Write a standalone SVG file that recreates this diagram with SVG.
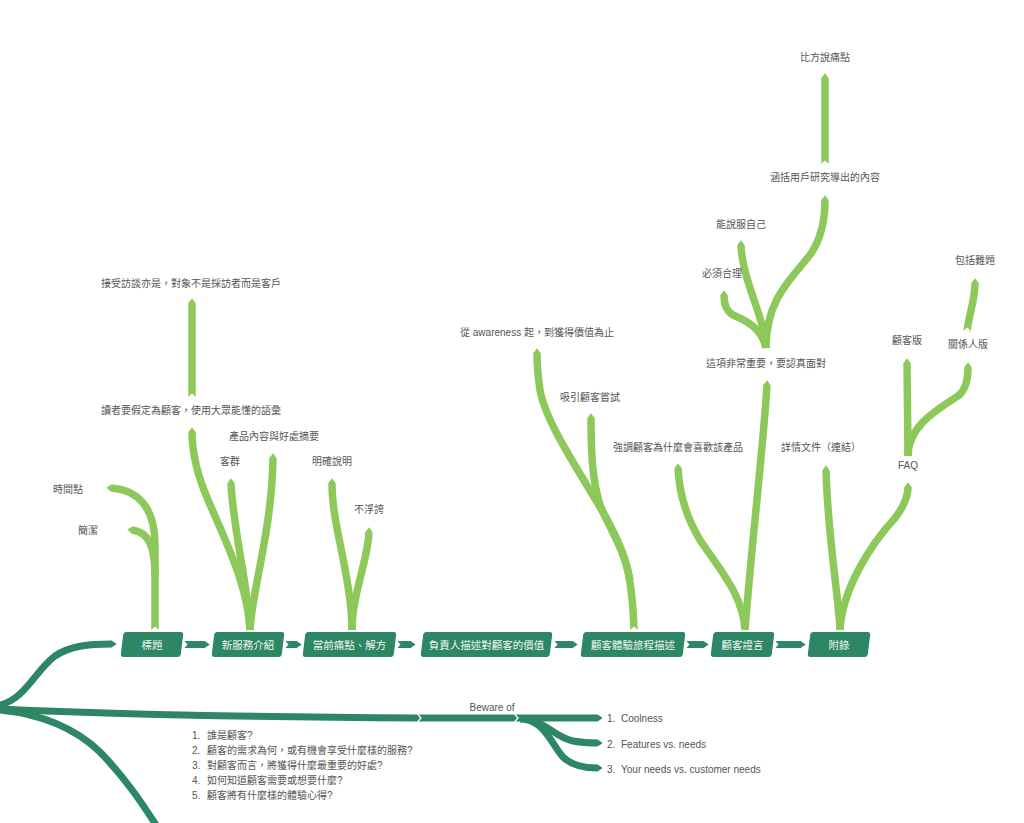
<svg xmlns="http://www.w3.org/2000/svg" width="1024" height="823" viewBox="0 0 1024 823">
<defs>
<style>
.g{fill:none;stroke:#8cc95a;stroke-width:7.5;stroke-linecap:butt;marker-end:url(#tipG)}
.gt{marker-start:url(#notch)}
.d{fill:none;stroke:#2e8764;stroke-width:7;stroke-linecap:butt;marker-end:url(#tipD)}
.dt{marker-start:url(#notch)}
.node{fill:#2e8764}
.nt{font-family:"Liberation Sans","Noto Sans CJK TC",sans-serif;font-size:10.5px;fill:#eef7f1;text-anchor:middle}
.lb{font-family:"Liberation Sans","Noto Sans CJK TC",sans-serif;font-size:10px;fill:#555;text-anchor:middle}
.ls{font-family:"Liberation Sans","Noto Sans CJK TC",sans-serif;font-size:10px;fill:#555}
.chev{fill:none;stroke:#fff;stroke-width:1.3}
</style>
<marker id="tipG" viewBox="0 0 5 8" refX="0.3" refY="4" markerWidth="5" markerHeight="8" markerUnits="userSpaceOnUse" orient="auto"><path d="M0,0.25 L5,4 L0,7.75 Z" fill="#8cc95a"/></marker>
<marker id="tipD" viewBox="0 0 5 8" refX="0.3" refY="4" markerWidth="5" markerHeight="8" markerUnits="userSpaceOnUse" orient="auto"><path d="M0,0.5 L5,4 L0,7.5 Z" fill="#2e8764"/></marker>
<marker id="notch" viewBox="0 0 4 8" refX="0" refY="4" markerWidth="4" markerHeight="8" markerUnits="userSpaceOnUse" orient="auto"><path d="M-0.2,-0.2 L3.5,4 L-0.2,8.2 Z" fill="#fff"/></marker>
</defs>
<rect width="1024" height="823" fill="#fff"/>

<g id="connectors">
<!-- root branches -->
<path class="d" d="M0,705 C25,699 35,671 55,656 C70,646 88,644 112,644"/>
<path class="d" d="M0,709 C100,714 250,717 420,718 L598,718"/>
<path class="d" d="M0,710 C40,714 75,728 100,752 C125,778 140,800 158,828"/>
<path class="d" d="M520,719 C545,719 553,737 573,741 C584,743 591,743 598,743"/>
<path class="d" d="M524,719 C545,722 552,745 563,757 C572,766 585,768 598,768"/>
<polyline class="chev" points="417.5,714 421,718 417.5,722"/>
<polyline class="chev" points="514.5,714 518,718 514.5,722"/>
<!-- node to node -->
<path class="d dt" d="M184,644.5 L205,644.5"/>
<path class="d dt" d="M285,644.5 L297,644.5"/>
<path class="d dt" d="M397,644.5 L411,644.5"/>
<path class="d dt" d="M554,644.5 L573,644.5"/>
<path class="d dt" d="M686,644.5 L704,644.5"/>
<path class="d dt" d="M775,644.5 L801,644.5"/>
<!-- 標題 -->
<path class="g gt" d="M155,630 L155,545 C155,510 140,490 111,488"/>
<path class="g" d="M155,575 C155,545 148,532 132,530"/>
<!-- 新服務介紹 -->
<path class="g gt" d="M250,630 C248,585 225,540 208,500 C196,472 192,450 192,432"/>
<path class="g" d="M250,630 C249,590 233,530 231,483"/>
<path class="g" d="M250,630 C252,590 272,530 273,458"/>
<path class="g gt" d="M192,397 L192,303"/>
<!-- 當前痛點、解方 -->
<path class="g gt" d="M352,630 C352,590 338,540 334,510 C332,495 332,490 332,483"/>
<path class="g" d="M352,630 C352,595 368,560 369,532"/>
<!-- 顧客體驗旅程描述 -->
<path class="g gt" d="M634,630 C632,570 625,550 600,507 C575,465 545,420 540,390 C537,370 537,360 537,353"/>
<path class="g" d="M630,580 C625,550 610,530 600,505 C592,480 591,450 591,418"/>
<!-- 顧客證言 -->
<path class="g gt" d="M745,630 C743,595 720,570 700,540 C685,515 679,490 678,468"/>
<path class="g" d="M745,630 C752,540 763,450 767,385"/>
<path class="g gt" d="M766,348 C766,300 790,280 810,255 C822,238 825,220 825,200"/>
<path class="g" d="M766,348 C765,318 742,280 741,245"/>
<path class="g" d="M766,348 C762,328 745,320 733,315 C726,311 724,303 724,295"/>
<path class="g gt" d="M825,164 L825,78"/>
<!-- 附錄 -->
<path class="g gt" d="M840,630 C838,590 828,540 826,470"/>
<path class="g" d="M840,630 C842,590 870,545 895,518 C905,505 908,495 908,487"/>
<path class="g gt" d="M908,456 L907,363"/>
<path class="g" d="M908,456 C908,425 940,408 958,396 C966,390 968,378 968,367"/>
<path class="g gt" d="M967,331 C970,310 975,300 975,283"/>
</g>

<g id="n1"><rect class="node" x="122" y="632" width="60" height="25" rx="3" transform="translate(0,644.5) skewX(-7) translate(0,-644.5)"/><text class="nt" x="152" y="648.5">標題</text></g>
<g id="n2"><rect class="node" x="213" y="632" width="70" height="25" rx="3" transform="translate(0,644.5) skewX(-7) translate(0,-644.5)"/><text class="nt" x="248" y="648.5">新服務介紹</text></g>
<g id="n3"><rect class="node" x="304" y="632" width="91" height="25" rx="3" transform="translate(0,644.5) skewX(-7) translate(0,-644.5)"/><text class="nt" x="349.5" y="648.5">當前痛點、解方</text></g>
<g id="n4"><rect class="node" x="422" y="632" width="129" height="25" rx="3" transform="translate(0,644.5) skewX(-7) translate(0,-644.5)"/><text class="nt" x="486.5" y="648.5">負責人描述對顧客的價值</text></g>
<g id="n5"><rect class="node" x="582" y="632" width="102" height="25" rx="3" transform="translate(0,644.5) skewX(-7) translate(0,-644.5)"/><text class="nt" x="633" y="648.5">顧客體驗旅程描述</text></g>
<g id="n6"><rect class="node" x="712" y="632" width="61" height="25" rx="3" transform="translate(0,644.5) skewX(-7) translate(0,-644.5)"/><text class="nt" x="742.5" y="648.5">顧客證言</text></g>
<g id="n7"><rect class="node" x="809" y="632" width="60" height="25" rx="3" transform="translate(0,644.5) skewX(-7) translate(0,-644.5)"/><text class="nt" x="839" y="648.5">附錄</text></g>

<g id="labels">
<text class="lb" x="68" y="492.5">時間點</text>
<text class="lb" x="88" y="533.5">簡潔</text>
<text class="lb" x="191" y="286.5">接受訪談亦是，對象不是採訪者而是客戶</text>
<text class="lb" x="191" y="413.5">讀者要假定為顧客，使用大眾能懂的語彙</text>
<text class="lb" x="274" y="439.5">產品內容與好處摘要</text>
<text class="lb" x="230" y="464.5">客群</text>
<text class="lb" x="332" y="464.5">明確說明</text>
<text class="lb" x="369" y="512.5">不浮誇</text>
<text class="lb" x="537" y="335.5">從 awareness 起，到獲得價值為止</text>
<text class="lb" x="590" y="400.5">吸引顧客嘗試</text>
<text class="lb" x="678" y="450.5">強調顧客為什麼會喜歡該產品</text>
<text class="lb" x="766" y="366.5">這項非常重要，要認真面對</text>
<text class="lb" x="825" y="60.5">比方說痛點</text>
<text class="lb" x="825" y="180.5">涵括用戶研究導出的內容</text>
<text class="lb" x="741" y="227.5">能說服自己</text>
<text class="lb" x="722" y="276.5">必須合理</text>
<text class="lb" x="821" y="450.5">詳情文件（連結）</text>
<text class="lb" x="908" y="468.5">FAQ</text>
<text class="lb" x="907" y="343.5">顧客版</text>
<text class="lb" x="968" y="347.5">關係人版</text>
<text class="lb" x="975" y="263.5">包括難題</text>
<text class="lb" x="492" y="710.5">Beware of</text>
</g>

<g id="beware-list">
<text class="ls" x="607" y="721.5">1.</text><text class="ls" x="621" y="721.5">Coolness</text>
<text class="ls" x="607" y="747.5">2.</text><text class="ls" x="621" y="747.5">Features vs. needs</text>
<text class="ls" x="607" y="772.5">3.</text><text class="ls" x="621" y="772.5">Your needs vs. customer needs</text>
</g>

<g id="questions">
<text class="ls" x="192" y="739">1.</text><text class="ls" x="207" y="739">誰是顧客?</text>
<text class="ls" x="192" y="754">2.</text><text class="ls" x="207" y="754">顧客的需求為何，或有機會享受什麼樣的服務?</text>
<text class="ls" x="192" y="769">3.</text><text class="ls" x="207" y="769">對顧客而言，將獲得什麼最重要的好處?</text>
<text class="ls" x="192" y="784">4.</text><text class="ls" x="207" y="784">如何知道顧客需要或想要什麼?</text>
<text class="ls" x="192" y="799">5.</text><text class="ls" x="207" y="799">顧客將有什麼樣的體驗心得?</text>
</g>
</svg>
